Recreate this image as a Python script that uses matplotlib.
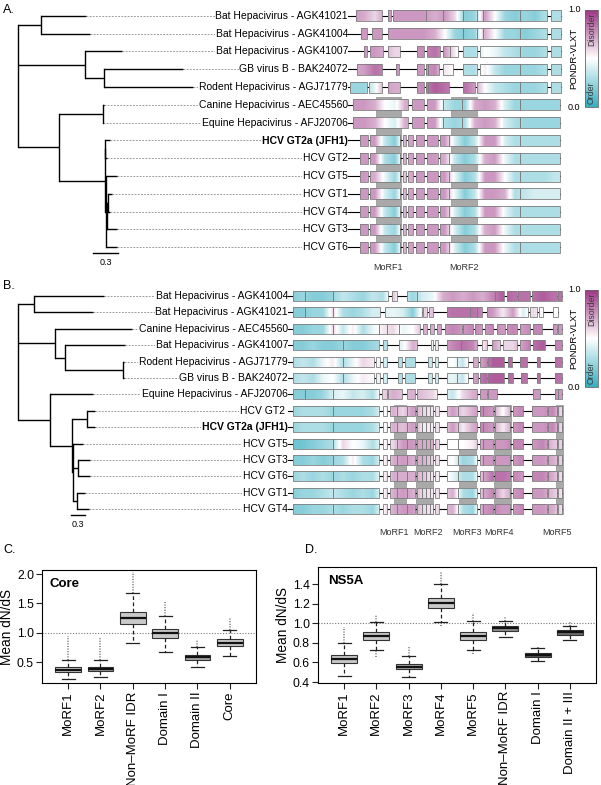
import numpy as np
import matplotlib
matplotlib.use('Agg')
import matplotlib.pyplot as plt
from matplotlib.colors import LinearSegmentedColormap, Normalize
from matplotlib.patches import Rectangle
from matplotlib.path import Path
from matplotlib.transforms import Affine2D
import matplotlib.cm as cm

plt.rcParams['font.family'] = ['Liberation Sans', 'DejaVu Sans']

# ---------------- data: panel A (core) ----------------
names_A = ['Bat Hepacivirus - AGK41021', 'Bat Hepacivirus - AGK41004', 'Bat Hepacivirus - AGK41007',
           'GB virus B - BAK24072', 'Rodent Hepacivirus - AGJ71779', 'Canine Hepacivirus - AEC45560',
           'Equine Hepacivirus - AFJ20706', 'HCV GT2a (JFH1)', 'HCV GT2', 'HCV GT5', 'HCV GT1',
           'HCV GT4', 'HCV GT3', 'HCV GT6']
# tip depths (substitutions/site) and tree as [node depth, children...]
tips_A = [0.816, 0.864, 1.248, 1.98, 2.10, 1.032, 1.026, 1.104, 1.068, 1.188, 1.128, 1.104, 1.188, 1.188]
tree_A = [0.0,
          [0.276, 0, 1],
          [0.804, 2, [1.032, 3, 4]],
          [0.492, [1.020, 5, 6],
                  [1.044, [1.05, 7, 8], [1.062, 9, [1.074, [1.086, 10, 11], 12], 13]]]]

hcv_boxes_A = [(5, 13), (15, 45), (48, 51), (53, 58), (61, 69), (72, 83), (85, 94), (94, 165), (165, 205)]
boxes_A = [
    [(1, 27), (33, 36), (38, 71), (71, 88), (88, 108), (108, 122), (122, 128), (128, 165), (165, 192), (196, 206)],
    [(6, 12), (17, 27), (33, 108), (108, 122), (122, 128), (128, 165), (165, 192), (196, 206)],
    [(9, 12), (15, 28), (33, 45), (62, 69), (72, 85), (88, 95), (95, 103), (108, 122), (125, 165), (165, 192), (196, 206)],
    [(2, 27), (41, 44), (62, 69), (71, 73), (73, 84), (88, 98), (108, 122), (125, 165), (165, 192), (196, 206)],
    [(-5, 12), (14, 27), (33, 45), (62, 69), (71, 73), (73, 94), (108, 120), (122, 165), (165, 192), (196, 206)],
    [(-2, 53), (57, 69), (72, 88), (88, 107), (107, 165), (165, 205)],
    [(-2, 53), (57, 69), (72, 88), (88, 107), (107, 165), (165, 205)],
] + [hcv_boxes_A] * 7

# PONDR-VLXT score sampled every 10 alignment columns, from -10 to 210
grid_A = np.arange(-10, 211, 10)
disorder_A = [
    [0.75, 0.75, 0.7, 0.6, 0.75, 0.75, 0.75, 0.75, 0.75, 0.7, 0.75, 0.6, 0.2, 0.25, 0.75, 0.5, 0.25, 0.2, 0.25, 0.2, 0.3, 0.3, 0.3],
    [0.75, 0.75, 0.75, 0.75, 0.75, 0.75, 0.75, 0.75, 0.75, 0.7, 0.5, 0.25, 0.2, 0.25, 0.7, 0.5, 0.25, 0.25, 0.2, 0.25, 0.3, 0.3, 0.3],
    [0.75, 0.75, 0.75, 0.75, 0.7, 0.6, 0.6, 0.75, 0.8, 0.85, 0.75, 0.55, 0.3, 0.3, 0.5, 0.45, 0.35, 0.3, 0.25, 0.25, 0.3, 0.3, 0.3],
    [0.7, 0.7, 0.75, 0.85, 0.8, 0.75, 0.75, 0.75, 0.75, 0.8, 0.55, 0.5, 0.3, 0.3, 0.55, 0.35, 0.25, 0.25, 0.25, 0.25, 0.3, 0.3, 0.3],
    [0.25, 0.25, 0.25, 0.45, 0.75, 0.7, 0.7, 0.75, 0.8, 0.9, 0.85, 0.8, 0.85, 0.75, 0.5, 0.35, 0.3, 0.25, 0.25, 0.25, 0.3, 0.3, 0.3],
    [0.75, 0.75, 0.75, 0.7, 0.5, 0.45, 0.7, 0.75, 0.75, 0.75, 0.35, 0.25, 0.25, 0.7, 0.75, 0.7, 0.4, 0.25, 0.25, 0.25, 0.25, 0.25, 0.25],
    [0.75, 0.75, 0.75, 0.7, 0.5, 0.4, 0.7, 0.75, 0.75, 0.75, 0.3, 0.25, 0.3, 0.7, 0.75, 0.7, 0.4, 0.3, 0.25, 0.25, 0.25, 0.25, 0.25],
    [0.75, 0.75, 0.75, 0.75, 0.35, 0.2, 0.7, 0.75, 0.75, 0.75, 0.75, 0.4, 0.2, 0.35, 0.75, 0.75, 0.4, 0.3, 0.3, 0.3, 0.3, 0.3, 0.3],
    [0.75, 0.75, 0.75, 0.75, 0.3, 0.2, 0.7, 0.75, 0.75, 0.75, 0.7, 0.35, 0.2, 0.3, 0.7, 0.75, 0.45, 0.3, 0.3, 0.3, 0.3, 0.3, 0.3],
    [0.75, 0.75, 0.75, 0.7, 0.45, 0.25, 0.65, 0.75, 0.75, 0.75, 0.75, 0.45, 0.2, 0.3, 0.75, 0.75, 0.5, 0.3, 0.3, 0.3, 0.3, 0.35, 0.35],
    [0.75, 0.75, 0.75, 0.75, 0.4, 0.25, 0.7, 0.75, 0.75, 0.75, 0.75, 0.45, 0.2, 0.35, 0.75, 0.75, 0.7, 0.3, 0.35, 0.4, 0.4, 0.4, 0.4],
    [0.75, 0.75, 0.75, 0.75, 0.35, 0.2, 0.7, 0.75, 0.75, 0.75, 0.75, 0.4, 0.2, 0.3, 0.75, 0.75, 0.45, 0.3, 0.3, 0.3, 0.3, 0.3, 0.3],
    [0.75, 0.75, 0.75, 0.75, 0.35, 0.25, 0.7, 0.75, 0.75, 0.75, 0.75, 0.4, 0.2, 0.3, 0.7, 0.75, 0.45, 0.3, 0.3, 0.3, 0.3, 0.3, 0.3],
    [0.75, 0.75, 0.75, 0.75, 0.35, 0.2, 0.7, 0.75, 0.75, 0.75, 0.75, 0.4, 0.2, 0.3, 0.75, 0.75, 0.45, 0.3, 0.3, 0.3, 0.3, 0.3, 0.3],
]
morf_names_A = ['MoRF1', 'MoRF2']
morf_start_A = [21, 96]
morf_end_A = [46, 122]

# ---------------- data: panel B (NS5A) ----------------
names_B = ['Bat Hepacivirus - AGK41004', 'Bat Hepacivirus - AGK41021', 'Canine Hepacivirus - AEC45560',
           'Bat Hepacivirus - AGK41007', 'Rodent Hepacivirus - AGJ71779', 'GB virus B - BAK24072',
           'Equine Hepacivirus - AFJ20706', 'HCV GT2 ', 'HCV GT2a (JFH1)', 'HCV GT5', 'HCV GT3',
           'HCV GT6', 'HCV GT1', 'HCV GT4']
tips_B = [1.803, 1.566, 2.39, 2.243, 2.222, 2.222, 1.579, 1.614, 1.614, 1.363, 1.509, 1.509, 1.405, 1.488]
tree_B = [0.0,
          [0.335, 0, 1],
          [0.776, 2, [0.992, 3, [2.208, 4, 5]]],
          [0.671, 6, [1.126, [1.44, 7, 8], [1.159, 9, [1.264, 10, 11], [1.231, 12, 13]]]]]

hcv_boxes_B = [(0, 40), (40, 86), (90, 94), (97, 104), (104, 114), (114, 122), (124, 129), (129, 133),
               (133, 137), (137, 140), (142, 146), (154, 165), (165, 184), (187, 190), (190, 200),
               (202, 217), (220, 230), (239, 254), (255, 264), (265, 269)]
boxes_B = [
    [(0, 12), (12, 40), (40, 95), (99, 104), (114, 124), (124, 202), (202, 211), (214, 224), (225, 237), (239, 264), (265, 269)],
    [(0, 12), (12, 40), (40, 87), (92, 129), (130, 134), (136, 140), (154, 177), (177, 184), (184, 189), (194, 235), (237, 244), (246, 250), (260, 265)],
    [(0, 40), (40, 86), (86, 94), (94, 106), (106, 127), (130, 134), (137, 141), (144, 148), (152, 169), (170, 180), (182, 189), (192, 200), (204, 212), (214, 224), (227, 237), (240, 249), (260, 264), (265, 269)],
    [(0, 50), (50, 86), (90, 94), (106, 124), (138, 140), (142, 145), (154, 168), (168, 184), (189, 194), (199, 207), (210, 224), (227, 237), (240, 252), (262, 269)],
    [(0, 50), (50, 81), (83, 87), (90, 94), (105, 109), (112, 122), (135, 139), (142, 145), (154, 164), (164, 175), (180, 185), (187, 194), (195, 211), (215, 219), (227, 234), (244, 247), (262, 269)],
    [(0, 50), (50, 81), (83, 87), (90, 94), (105, 109), (112, 122), (135, 139), (142, 145), (154, 164), (164, 175), (180, 185), (187, 194), (195, 211), (215, 220), (228, 234), (244, 247), (262, 269)],
    [(0, 12), (12, 40), (40, 86), (89, 94), (95, 109), (114, 122), (124, 144), (154, 184), (187, 194), (195, 204), (240, 247), (262, 265), (265, 269)],
] + [hcv_boxes_B] * 7

grid_B = np.arange(-10, 271, 10)
disorder_B = [
    [0.2, 0.2, 0.25, 0.2, 0.2, 0.25, 0.35, 0.3, 0.25, 0.35, 0.3, 0.65, 0.4, 0.25, 0.4, 0.45, 0.7, 0.75, 0.7, 0.75, 0.7, 0.8, 0.9, 0.85, 0.85, 0.85, 0.9, 0.85, 0.85],
    [0.2, 0.2, 0.2, 0.25, 0.25, 0.6, 0.3, 0.25, 0.3, 0.4, 0.4, 0.45, 0.4, 0.2, 0.6, 0.65, 0.8, 0.85, 0.85, 0.85, 0.8, 0.75, 0.55, 0.75, 0.4, 0.6, 0.5, 0.5, 0.5],
    [0.2, 0.2, 0.2, 0.25, 0.25, 0.6, 0.35, 0.55, 0.3, 0.45, 0.55, 0.6, 0.45, 0.5, 0.7, 0.7, 0.75, 0.8, 0.75, 0.8, 0.75, 0.8, 0.75, 0.8, 0.75, 0.8, 0.8, 0.75, 0.75],
    [0.2, 0.2, 0.2, 0.25, 0.2, 0.2, 0.25, 0.2, 0.2, 0.25, 0.3, 0.35, 0.45, 0.7, 0.6, 0.45, 0.7, 0.8, 0.85, 0.8, 0.55, 0.75, 0.6, 0.6, 0.75, 0.85, 0.9, 0.8, 0.8],
    [0.3, 0.3, 0.35, 0.3, 0.45, 0.55, 0.3, 0.45, 0.6, 0.55, 0.4, 0.35, 0.3, 0.3, 0.35, 0.35, 0.45, 0.5, 0.35, 0.7, 0.75, 0.9, 0.9, 0.85, 0.85, 0.85, 0.85, 0.85, 0.85],
    [0.3, 0.3, 0.35, 0.3, 0.45, 0.5, 0.3, 0.45, 0.55, 0.5, 0.4, 0.35, 0.3, 0.3, 0.35, 0.35, 0.4, 0.45, 0.35, 0.7, 0.85, 0.9, 0.9, 0.85, 0.85, 0.85, 0.85, 0.85, 0.85],
    [0.2, 0.2, 0.2, 0.2, 0.25, 0.4, 0.45, 0.35, 0.4, 0.3, 0.6, 0.7, 0.65, 0.7, 0.65, 0.6, 0.45, 0.35, 0.6, 0.7, 0.75, 0.75, 0.75, 0.75, 0.75, 0.75, 0.75, 0.75, 0.75],
    [0.25, 0.25, 0.3, 0.3, 0.3, 0.25, 0.25, 0.25, 0.25, 0.3, 0.45, 0.7, 0.6, 0.75, 0.6, 0.55, 0.6, 0.75, 0.6, 0.7, 0.8, 0.75, 0.5, 0.75, 0.8, 0.75, 0.75, 0.8, 0.55],
    [0.25, 0.25, 0.3, 0.3, 0.3, 0.25, 0.25, 0.25, 0.25, 0.3, 0.45, 0.7, 0.65, 0.75, 0.55, 0.55, 0.6, 0.75, 0.55, 0.7, 0.8, 0.75, 0.55, 0.75, 0.8, 0.75, 0.75, 0.8, 0.55],
    [0.2, 0.15, 0.15, 0.2, 0.25, 0.3, 0.6, 0.5, 0.45, 0.3, 0.5, 0.6, 0.75, 0.75, 0.7, 0.7, 0.5, 0.5, 0.5, 0.55, 0.75, 0.75, 0.75, 0.8, 0.8, 0.75, 0.8, 0.65, 0.6],
    [0.2, 0.2, 0.2, 0.25, 0.2, 0.25, 0.3, 0.55, 0.3, 0.25, 0.5, 0.7, 0.75, 0.7, 0.7, 0.6, 0.55, 0.5, 0.25, 0.3, 0.75, 0.75, 0.75, 0.75, 0.8, 0.75, 0.75, 0.7, 0.6],
    [0.2, 0.25, 0.3, 0.25, 0.3, 0.25, 0.3, 0.25, 0.3, 0.3, 0.5, 0.7, 0.7, 0.7, 0.65, 0.55, 0.55, 0.45, 0.3, 0.3, 0.7, 0.85, 0.85, 0.8, 0.75, 0.8, 0.8, 0.7, 0.55],
    [0.2, 0.2, 0.25, 0.25, 0.3, 0.35, 0.3, 0.25, 0.3, 0.25, 0.5, 0.7, 0.75, 0.7, 0.6, 0.55, 0.6, 0.7, 0.3, 0.25, 0.7, 0.8, 0.6, 0.75, 0.8, 0.75, 0.75, 0.65, 0.55],
    [0.2, 0.2, 0.2, 0.25, 0.25, 0.3, 0.25, 0.3, 0.3, 0.25, 0.5, 0.7, 0.75, 0.75, 0.6, 0.55, 0.65, 0.7, 0.3, 0.25, 0.75, 0.8, 0.75, 0.75, 0.8, 0.75, 0.75, 0.7, 0.55],
]
morf_names_B = ['MoRF1', 'MoRF2', 'MoRF3', 'MoRF4', 'MoRF5']
morf_start_B = [101, 123, 166, 201, 263]
morf_end_B = [113, 140, 183, 218, 270]
morf_label_x_B = [101, 135, 174, 206, 264]

# ---------------- data: panels C, D (bootstrap dN/dS) ----------------
cats_C = ['MoRF1', 'MoRF2', 'Non\u2013MoRF IDR', 'Domain I', 'Domain II', 'Core']
med_C = [0.37, 0.39, 1.25, 0.99, 0.585, 0.83]
q1_C = [0.33, 0.35, 1.15, 0.91, 0.54, 0.78]
q3_C = [0.41, 0.425, 1.36, 1.06, 0.62, 0.89]
wlo_C = [0.215, 0.255, 0.83, 0.68, 0.425, 0.61]
whi_C = [0.54, 0.545, 1.675, 1.29, 0.755, 1.05]
outhi_C = [0.95, 0.92, 2.04, 1.53, 0.88, 1.25]
fill_C = ['#c9c9c9', '#9d9d9d', '#c9c9c9', '#c9c9c9', '#a3a3a3', '#c9c9c9']

cats_D = ['MoRF1', 'MoRF2', 'MoRF3', 'MoRF4', 'MoRF5', 'Non\u2013MoRF IDR', 'Domain I', 'Domain II + III']
med_D = [0.632, 0.871, 0.557, 1.212, 0.871, 0.95, 0.677, 0.909]
q1_D = [0.591, 0.83, 0.53, 1.161, 0.83, 0.922, 0.659, 0.884]
q3_D = [0.673, 0.909, 0.587, 1.257, 0.912, 0.973, 0.694, 0.929]
wlo_D = [0.461, 0.728, 0.448, 1.011, 0.728, 0.864, 0.615, 0.83]
whi_D = [0.80, 1.011, 0.669, 1.40, 1.024, 1.027, 0.745, 0.976]
outhi_D = [0.966, 1.09, 0.755, 1.529, 1.109, 1.078, 0.76, 1.027]
outlo_D = [0.461, 0.66, 0.448, 0.976, 0.683, 0.864, 0.60, 0.83]
fill_D = ['#c9c9c9', '#c9c9c9', '#a9a9a9', '#c9c9c9', '#c9c9c9', '#8e8e8e', '#5c5c5c', '#6c6c6c']

# ---------------- figure ----------------
W, H = 601, 785
fig = plt.figure(figsize=(W / 100, H / 100), dpi=100)


def px_axes(x0, y0, x1, y1):
    return fig.add_axes([x0 / W, 1 - y1 / H, (x1 - x0) / W, (y1 - y0) / H])


cmap = LinearSegmentedColormap.from_list('pondr', ['#36adc0', '#ffffff', '#9c3585'])
norm = Normalize(0, 1)


def draw_tree(ax, node, tips):
    depth = node[0]
    ys = []
    for ch in node[1:]:
        if isinstance(ch, int):
            cy, cx = ch, tips[ch]
        else:
            cy, cx = draw_tree(ax, ch, tips), ch[0]
        ax.plot([depth, cx], [cy, cy], color='k', lw=1.0, solid_capstyle='butt', zorder=2)
        ys.append(cy)
    ax.plot([depth, depth], [min(ys), max(ys)], color='k', lw=1.0, solid_capstyle='projecting', zorder=2)
    return (min(ys) + max(ys)) / 2


def tree_panel(box_px, px_per_unit, root_px, tree, tips, names, bold_row, nrows_view, bar_x, bar_y):
    x0, y0, x1, y1 = box_px
    ax = px_axes(x0, y0, x1, y1)
    ax.set_xlim((x0 - root_px) / px_per_unit, (x1 - root_px) / px_per_unit)
    ax.set_ylim(nrows_view, -0.5)
    ax.axis('off')
    draw_tree(ax, tree, tips)
    lab_x = ax.get_xlim()[1]
    for i, name in enumerate(names):
        ax.plot([tips[i], lab_x], [i, i], color='#8c8c8c', lw=0.6, ls=(0, (2.2, 1.6)), zorder=1)
        ax.text(lab_x, i, name, ha='right', va='center', fontsize=7.5,
                fontweight='bold' if i == bold_row else 'normal',
                bbox=dict(fc='white', ec='none', pad=0.6), zorder=3)
    ax.plot([bar_x, bar_x + 0.3], [bar_y, bar_y], color='k', lw=1.0)
    ax.text(bar_x + 0.15, bar_y + 0.3, '0.3', ha='center', va='top', fontsize=6.5)
    return ax


def track_panel(box_px, xlim, nrows_view, boxes, grid, disorder, morf_names, mstart, mend, mlab_x, band_rows, lab_row):
    x0, y0, x1, y1 = box_px
    ax = px_axes(x0, y0, x1, y1)
    h = 0.62
    step = grid[1] - grid[0]
    for s, e in zip(mstart, mend):
        ax.add_patch(Rectangle((s, band_rows[0]), e - s, band_rows[1] - band_rows[0],
                               fc='#a9a9a9', ec='#8f8f8f', lw=0.5, zorder=0.5))
    for name, lx in zip(morf_names, mlab_x):
        ax.text(lx, lab_row, name, ha='center', va='center', fontsize=6.5, color='#333333')
    for i, (bx, prof) in enumerate(zip(boxes, disorder)):
        prof = np.asarray(prof, dtype=float)
        ax.plot([xlim[0], bx[-1][1]], [i, i], color='k', lw=0.8, zorder=1)
        im = ax.imshow(prof[np.newaxis, :], cmap=cmap, norm=norm, aspect='auto',
                       interpolation='bilinear',
                       extent=(grid[0] - step / 2, grid[-1] + step / 2, i - h / 2, i + h / 2), zorder=2)
        rects = [Path.unit_rectangle().transformed(Affine2D().scale(e - s, h).translate(s, i - h / 2))
                 for s, e in bx]
        im.set_clip_path(Path.make_compound_path(*rects), ax.transData)
        for s, e in bx:
            ax.add_patch(Rectangle((s, i - h / 2), e - s, h, fill=False, ec='#7d7d7d', lw=0.6, zorder=3))
    ax.set_xlim(*xlim)
    ax.set_ylim(nrows_view, -0.5)
    ax.axis('off')
    return ax


def colorbar_panel(box_px):
    x0, y0, x1, y1 = box_px
    cax = px_axes(x0, y0, x1, y1)
    cb = fig.colorbar(cm.ScalarMappable(norm=norm, cmap=cmap), cax=cax)
    cb.set_ticks([])
    cb.outline.set_edgecolor('#666666')
    cb.outline.set_linewidth(0.6)
    cax.text(0.5, 0.97, 'Disorder', rotation=90, ha='center', va='top', fontsize=6.3,
             color='#3a3a3a', transform=cax.transAxes)
    cax.text(0.5, 0.03, 'Order', rotation=90, ha='center', va='bottom', fontsize=6.3,
             color='#3a3a3a', transform=cax.transAxes)
    cax.text(-0.35, 1.0, '1.0', ha='right', va='center', fontsize=6.5, transform=cax.transAxes)
    cax.text(-0.35, 0.0, '0.0', ha='right', va='center', fontsize=6.5, transform=cax.transAxes)
    cax.text(-0.85, 0.5, 'PONDR-VLXT', rotation=90, ha='center', va='center', fontsize=6.8,
             transform=cax.transAxes)


# panel A
tree_panel((0, 7, 348, 274), 83.3, 18, tree_A, tips_A, names_A, 7, 14.5, 0.9, 13.3)
track_panel((348, 7, 565, 274), (-7, 210), 14.5, boxes_A, grid_A, disorder_A,
            morf_names_A, morf_start_A, morf_end_A,
            [(s + e) / 2 for s, e in zip(morf_start_A, morf_end_A)], (4.55, 13.3), 14.15)
colorbar_panel((585, 10, 598, 107))

# panel B
tree_panel((0, 287.8, 288, 542), 47.7, 18, tree_B, tips_B, names_B, 8, 15.0, 1.105, 13.35)
track_panel((288, 287.8, 565, 542), (-5, 272), 15.0, boxes_B, grid_B, disorder_B,
            morf_names_B, morf_start_B, morf_end_B, morf_label_x_B, (6.65, 13.27), 14.4)
colorbar_panel((585, 290, 598, 387))

fig.text(3 / W, 1 - 10 / H, 'A.', fontsize=9, va='center', ha='left')
fig.text(3 / W, 1 - 286 / H, 'B.', fontsize=9, va='center', ha='left')
fig.text(3 / W, 1 - 550 / H, 'C.', fontsize=9, va='center', ha='left')
fig.text(305 / W, 1 - 550 / H, 'D.', fontsize=9, va='center', ha='left')


def box_panel(box_px, cats, med, q1, q3, wlo, whi, outhi, outlo, fills, ylim, yticks, title):
    x0, y0, x1, y1 = box_px
    ax = px_axes(x0, y0, x1, y1)
    pos = np.arange(1, len(cats) + 1)
    stats = [dict(med=m, q1=a, q3=b, whislo=lo, whishi=hi, fliers=[])
             for m, a, b, lo, hi in zip(med, q1, q3, wlo, whi)]
    ax.vlines(pos, whi, outhi, colors='#6e6e6e', lw=1.1, linestyles=(0, (0.7, 1.0)), zorder=1)
    if outlo is not None:
        ax.vlines(pos, outlo, wlo, colors='#6e6e6e', lw=1.1, linestyles=(0, (0.7, 1.0)), zorder=1)
    bp = ax.bxp(stats, positions=pos, widths=0.8, capwidths=0.4, patch_artist=True, showfliers=False,
                boxprops=dict(edgecolor='#333333', lw=0.8),
                medianprops=dict(color='#111111', lw=1.6),
                whiskerprops=dict(color='#222222', lw=0.9, ls=(0, (3, 2))),
                capprops=dict(color='#222222', lw=0.9))
    for patch, c in zip(bp['boxes'], fills):
        patch.set_facecolor(c)
    ax.axhline(1.0, color='#777777', lw=0.8, ls=(0, (1, 1.5)), zorder=0)
    ax.set_xlim(0.2, len(cats) + 0.8)
    ax.set_ylim(*ylim)
    ax.set_yticks(yticks)
    ax.set_yticklabels(['%.1f' % t for t in yticks], fontsize=8.8)
    ax.set_xticks(pos)
    ax.set_xticklabels(cats, rotation=90, fontsize=9.5)
    ax.tick_params(length=4, width=0.8, color='#222222', pad=2)
    for s in ax.spines.values():
        s.set_linewidth(0.8)
    ax.set_ylabel('Mean dN/dS', fontsize=9.8, labelpad=2)
    ax.text(0.035, 0.93, title, transform=ax.transAxes, fontsize=9.5, fontweight='bold', va='top')
    return ax


box_panel((42.3, 570, 255.7, 683.3), cats_C, med_C, q1_C, q3_C, wlo_C, whi_C, outhi_C, None, fill_C,
          (0.14, 2.07), [0.5, 1.0, 1.5, 2.0], 'Core')
box_panel((318.3, 567.3, 595.7, 682.7), cats_D, med_D, q1_D, q3_D, wlo_D, whi_D, outhi_D, outlo_D, fill_D,
          (0.393, 1.574), [0.4, 0.6, 0.8, 1.0, 1.2, 1.4], 'NS5A')

fig.savefig('out.png', dpi=100)
